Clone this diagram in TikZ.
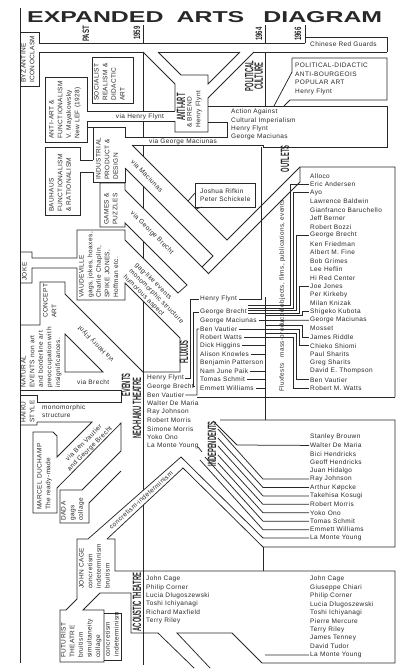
\documentclass[tikz,border=0pt]{standalone}
\usepackage{fontspec}
\usepackage{graphicx}
\setmainfont{Liberation Sans}
\newfontfamily\typefont[LetterSpace=6]{Liberation Sans}
\newfontfamily\condfont[FakeStretch=0.48]{Liberation Sans}
\newfontfamily\datefont[FakeStretch=0.65]{Liberation Sans}
\usetikzlibrary{positioning}
\definecolor{ink}{RGB}{40,40,40}

\begin{document}
\begin{tikzpicture}[x=1pt, y=-1pt,
    pipe/.style={draw=ink, line width=0.75pt},
    blank/.style={fill=white, draw=none},
    vtext/.style={rotate=90, anchor=north west, align=left, inner sep=0pt,
      text=ink, font=\typefont\fontsize{6.5}{8.6}\selectfont},
    htext/.style={anchor=west, align=left, inner sep=0pt,
      text=ink, font=\typefont\fontsize{6.5}{8.4}\selectfont},
    tag/.style={rotate=90, inner sep=0pt, align=center, text=ink,
      font=\condfont\bfseries\fontsize{12}{9.5}\selectfont},
    datetag/.style={rotate=90, inner sep=0pt, text=ink,
      font=\datefont\bfseries\fontsize{9.3}{9}\selectfont}
  ]
  \path[use as bounding box, fill=white] (0,0) rectangle (400,672);

  \node[inner sep=0pt, anchor=west, text=ink] (title) at (27,17.5)
    {\resizebox{355pt}{11pt}{\bfseries EXPANDED\hspace{0.53em}ARTS\hspace{0.77em}DIAGRAM}};

  % time lines
  \coordinate (bar59) at (143,0);
  \coordinate (bar64) at (265,0);
  \draw[pipe] (20,8) -- (20,663);
  \draw[pipe] (143,25) -- (143,665);
  \draw[pipe] (265,25) -- (265,43) (265,52) -- (265,106) (265,297) -- (265,420) (263,547) -- (263,571);
  \draw[pipe] (305,25) -- (305,37);
  \node[datetag] (past) at (86,34) {PAST};
  \node[datetag] (y59) at (137,33) {1959};
  \node[datetag] (y64) at (259,34) {1964};
  \node[datetag] (y66) at (298,34) {1966};

  % channels (white under the lines)
  \fill[blank] (39,43) rectangle (305,52);
  \fill[blank] (143,52) -- (158,52) -- (181,75) -- (175,84) -- cycle;
  \fill[blank] (240,52) -- (254,52) -- (208,98) -- (208,84) -- cycle;
  \fill[blank] (87,111) rectangle (175,121);
  \fill[blank] (125,137) rectangle (263,145);
  \fill[blank] (125,145) -- (132,145) -- (227,240) -- (300,167) -- (300,182) -- (208,274)
    -- (202,267) -- (213,256) -- (125,168) -- cycle;
  \fill[blank] (125,190) -- (208,273) -- (187,285) -- (125,223) -- cycle;
  \fill[blank] (125,240) -- (178,293) -- (180,338) -- (125,283) -- cycle;
  \fill[blank] (88,539) -- (181,457) -- (183,468) -- (107,539) -- cycle;

  % top band, past
  \draw[pipe] (39,43) -- (305,43);
  \draw[pipe] (39,52) -- (143,52) (158,52) -- (240,52) (254,52) -- (387,52);
  \draw[pipe] (305,43) -- (305,37) -- (387,37) -- (387,52);
  \draw[pipe] (20,32) -- (39,32) -- (39,43) (39,52) -- (39,86) -- (20,86);
  \draw[pipe] (92,57) rectangle (133,103);
  \draw[pipe] (143,52) -- (175,84) -- (175,111);
  \draw[pipe] (158,52) -- (181,75) -- (208,75) -- (208,84) -- (240,52);
  \draw[pipe] (254,52) -- (208,98) -- (208,132) -- (175,132) -- (175,121);
  \draw[pipe] (208,106) -- (387,106) -- (387,147) -- (263,147) -- (263,145) -- (132,145);
  \draw[pipe] (208,122) -- (227,122) -- (227,137) -- (125,137) -- (125,127) -- (93,127) -- (93,160);
  \draw[pipe] (93,172) -- (93,182) -- (125,182) -- (125,168);
  \draw[pipe] (292,58) -- (387,58) -- (387,100) -- (290,100) -- (284,106);
  \draw[pipe] (292,58) -- (292,72) -- (274,106);
  \draw[pipe] (87,111) -- (175,111) (87,121) -- (175,121);
  \draw[pipe] (87,111) -- (87,77) -- (45,77) -- (45,142) -- (87,142) -- (87,121);
  \draw[pipe] (87,127) -- (93,127);
  \draw[pipe] (93,160) -- (80,160) -- (80,147) -- (45,147) -- (45,215) -- (80,215) -- (80,172) -- (93,172);

  % channels to fluxus and outlets
  \draw[pipe] (132,145) -- (227,240) -- (300,167) -- (395,167) -- (395,397);
  \draw[pipe] (300,167) -- (300,182) -- (208,274);
  \draw[pipe] (125,168) -- (213,256) -- (202,267);
  \draw[pipe] (125,190) -- (208,273);
  \draw[pipe] (125,190) -- (125,183) -- (100,183) -- (100,227) -- (125,227) -- (125,223) -- (187,285)
    -- (178,293) -- (125,240) -- (125,230) -- (77,230) -- (77,258) -- (32,258) -- (32,252) -- (20,252);
  \draw[pipe] (20,283) -- (32,283) -- (32,268) -- (77,268) -- (77,300) -- (125,300) -- (125,283)
    -- (180,338) -- (180,372) -- (143,372) -- (65,294) -- (65,282) -- (40,282) -- (40,325) -- (20,325);
  \draw[pipe] (195,183) rectangle (255,207);
  \draw[pipe] (195,193) -- (188,201) (202,207) -- (196,209);

  % events
  \draw[pipe] (65,334) -- (103,372) -- (65,372) -- cycle;
  \draw[pipe] (20,390) -- (121,390) -- (121,402) -- (37,402) -- (37,395) -- (20,395);
  \draw[pipe] (20,425) -- (37,425) -- (37,422) -- (92,422) -- (57,457) -- (57,436) -- (53,432)
    -- (33,432) -- (33,513) -- (57,513) -- (57,488) -- (121,423) -- (121,451) -- (82,490)
    -- (60,490) -- (60,523) -- (89,523) -- (89,503) -- (121,471);
  \draw[pipe] (88,539) -- (181,457) -- (263,538);
  \draw[pipe] (107,539) -- (183,468) -- (263,547) -- (395,547) -- (395,420) -- (220,420);
  \draw[pipe] (197,397) -- (395,397);
  \draw[pipe] (198,447) -- (202,452);

  % acoustic theatre
  \draw[pipe] (88,539) -- (77,539) -- (77,599) -- (66,610) -- (60,610) -- (60,662) -- (104,662)
    -- (104,610) -- (83,610) -- (100,593) -- (131,593) -- (131,633) -- (158,633) -- (194,668);
  \draw[pipe] (104,613) -- (121,613) -- (121,660) -- (104,660);
  \draw[pipe] (107,539) -- (115,539) -- (115,571) -- (395,571) -- (395,663) -- (262,663) -- (232,633)
    -- (177,633) -- (210,668);

  % boxed texts
  \node[inner sep=0pt, anchor=west, font=\typefont\fontsize{6.5}{8}\selectfont, text=ink]
    (redguards) at (310,44.5) {Chinese Red Guards};
  \node[vtext] (byz) at (21,83) {BYZANTINE\\ICONOCLASM};
  \node[vtext] (socreal) at (94,101) {SOCIALIST\\REALISM \&\\DIDACTIC\\ART};
  \node[vtext] (antifunc) at (49,139) {ANTI-ART \&\\FUNCTIONALISM\\V. Mayakowsky\\New LEF (1928)};
  \node[vtext] (indus) at (96,180) {INDUSTRIAL\\PRODUCT \&\\DESIGN};
  \node[vtext] (bauhaus) at (49,212) {BAUHAUS\\FUNCTIONALISM\\\& RATIONALISM};
  \node[vtext] (games) at (104,225) {GAMES \&\\PUZZLES};
  \node[vtext] (joke) at (22,281) {JOKE};
  \node[vtext] (vaude) at (79,298) {VAUDEVILLE\\gags, jokes, hoaxes,\\Charlie Chaplin,\\SPIKE JONES,\\Hoffman etc.};
  \node[vtext] (concept) at (43,318) {CONCEPT\\ART};
  \node[vtext] (natural) at (21,388) {NATURAL\\EVENTS non art\\and borderline art\\preoccupation with\\insignificances.};
  \node[vtext] (haiku) at (21,423) {HAIKU\\STYLE};
  \node[vtext] (duchamp) at (37,510) {MARCEL DUCHAMP\\The ready-made};
  \node[vtext] (dada) at (61,521) {DADA\\gags\\collage};
  \node[vtext] (cage) at (79,589) {JOHN CAGE\\concretism\\indeterminism\\bruitism};
  \node[vtext] (futurist) at (61,658) {FUTURIST\\THEATRE\\bruitism\\simultaneity\\collage};
  \node[vtext] (futurist2) at (105,657) {concretism\\indeterminism};
  \node[vtext] (brend) at (187,128) {\& BREND\\Henry Flynt};
  \node[htext] (poldid) at (295,79) {POLITICAL-DIDACTIC\\ANTI-BOURGEOIS\\POPULAR ART\\Henry Flynt};
  \node[htext] (action) at (231,124.7) {Action Against\\Cultural Imperialism\\Henry Flynt\\George Maciunas};
  \node[htext] (rifkin) at (200,195) {Joshua Rifkin\\Peter Schickele};

  % channel texts
  \node[htext, anchor=center] (viaflynt) at (140,116.5) {via Henry Flynt};
  \node[htext, anchor=center] (viamac) at (183,141.5) {via George Maciunas};
  \node[htext, anchor=center, rotate=-45] (viamac2) at (147,176) {via Maciunas};
  \node[htext, anchor=center, rotate=-45] (viabrecht) at (152,233) {via George Brecht};
  \node[htext, anchor=west, rotate=-45] (gags) at (130,270) {gag-like events\\monomorphic structure\\humorous aspect};
  \node[htext, anchor=center, rotate=135] (viaflynt2) at (96,344) {via Henry Flynt};
  \node[htext] (viabrecht2) at (77,382) {via Brecht};
  \node[htext] (monom) at (42,411) {monomorphic\\structure};
  \node[htext, anchor=center, rotate=45, align=center] (viaben) at (87,446) {via Ben Vautier\\and George Brecht};
  \node[htext, anchor=center, rotate=42] (concind) at (141,500) {concretism-indeterminism};

  % movement tags
  \node[tag] (antiart) at (181,107) {ANTI-ART};
  \node[tag] (polcult) at (254,76) {POLITICAL\\CULTURE};
  \node[tag] (outlets) at (285,159) {OUTLETS};
  \node[tag] (fluxus) at (184,352) {FLUXUS};
  \node[tag] (events) at (126,385) {EVENTS};
  \node[tag] (neohaiku) at (137,408) {NEO-HAIKU THEATRE};
  \node[tag] (indep) at (212,444) {INDEPENDENTS};
  \node[tag] (acoustic) at (137,602) {ACOUSTIC THEATRE};

  % name lists
  \node[htext] (fx0) at (200,299) {Henry Flynt};
  \foreach \n [count=\i] in {George Brecht, George Maciunas, Ben Vautier, Robert Watts,
      Dick Higgins, Alison Knowles, Benjamin Patterson, Nam June Paik, Tomas Schmit, Emmett Williams}
    \node[htext] (fx\i) at (200,{312+8.45*(\i-1)}) {\n};
  \foreach \n [count=\i from 0] in {Alloco, Eric Andersen, Ayo, Lawrence Baldwin, Gianfranco Baruchello,
      Jeff Berner, Robert Bozzi, George Brecht, Ken Friedman, Albert M. Fine, Bob Grimes, Lee Heflin,
      Hi Red Center, Joe Jones, Per Kirkeby, Milan Knizak, Shigeko Kubota, George Maciunas, Mosset,
      James Riddle, Chieko Shiomi, Paul Sharits, Greg Sharits, David E. Thompson, Ben Vautier, Robert M. Watts}
    \node[htext] (out\i) at (310,{175.7+8.5*\i}) {\n};
  \foreach \n [count=\i from 0] in {Henry Flynt, George Brecht, Ben Vautier, Walter De Maria, Ray Johnson,
      Robert Morris, Simone Morris, Yoko Ono, La Monte Young}
    \node[htext] (nh\i) at (147,{378+8.5*\i}) {\n};
  \foreach \n [count=\i from 0] in {Stanley Brouwn, Walter De Maria, Bici Hendricks, Geoff Hendricks,
      Juan Hidalgo, Ray Johnson, Arthur Køpcke, Takehisa Kosugi, Robert Morris, Yoko Ono, Tomas Schmit,
      Emmett Williams, La Monte Young}
    \node[htext] (ind\i) at (310,{437+8.42*\i}) {\n};
  \foreach \n [count=\i from 0] in {John Cage, Philip Corner, Lucia Dlugoszewski, Toshi Ichiyanagi,
      Richard Maxfield, Terry Riley}
    \node[htext] (ac\i) at (146,{579+8.4*\i}) {\n};
  \foreach \n [count=\i from 0] in {John Cage, Giuseppe Chiari, Philip Corner, Lucia Dlugoszewski,
      Toshi Ichiyanagi, Pierre Mercure, Terry Riley, James Tenney, David Tudor, La Monte Young}
    \node[htext] (acr\i) at (310,{579+8.44*\i}) {\n};
  \node[vtext, font=\typefont\fontsize{6.3}{8}\selectfont] (fluxfests) at (279,392)
    {Fluxfests\quad mass-produced objects, films, publications, events.};

  % connectors between lists
  \draw[pipe] ([xshift=2pt]fx0.east) -- (261,299) -- (261,147);
  \foreach \i in {2,...,10}
    \draw[pipe] ([xshift=2pt]fx\i.east) -- (fx\i.east -| bar64);
  \foreach \fy/\bx/\k in {305.5/290/1, 308/293/2, 310.5/296/7, 313/299/13}
    \draw[pipe] (248,\fy) -- (\bx,\fy) |- ([xshift=-1pt]out\k.west);
  \foreach \fy/\bx/\k in {315.5/302/16, 325/302/19, 329/299/20, 333/296/24, 337/293/25}
    \draw[pipe] (265,\fy) -- (\bx,\fy) |- ([xshift=-1pt]out\k.west);
  \draw[pipe] (265,320.5) -- ([xshift=-1pt]out17.west);
  \draw[pipe] ([xshift=1pt]nh0.east) -| (190,299) -- ([xshift=-1pt]fx0.west);
  \draw[pipe] ([xshift=1pt]nh1.east) -| (193,312) -- ([xshift=-1pt]fx1.west);
  \draw[pipe] ([xshift=1pt]nh2.east) -| (197,329) -- ([xshift=-1pt]fx3.west);
  \draw[pipe] (213,421) -- (237,445) -- ([xshift=-1pt]ind1.west);
  \foreach \sx/\sy/\k in {218/429/5, 218/438/6, 218/446/7, 218/455/8, 218/463/9, 205/457/10, 200/460/11}
    \draw[pipe] (\sx,\sy) -- (ind\k.west -| 263,0) -- ([xshift=-1pt]ind\k.west);
  \draw[pipe] (263,538) -- ([xshift=-1pt]ind12.west);
  \draw[pipe] (265,655) -- ([xshift=-1pt]acr9.west);
\end{tikzpicture}
\end{document}
